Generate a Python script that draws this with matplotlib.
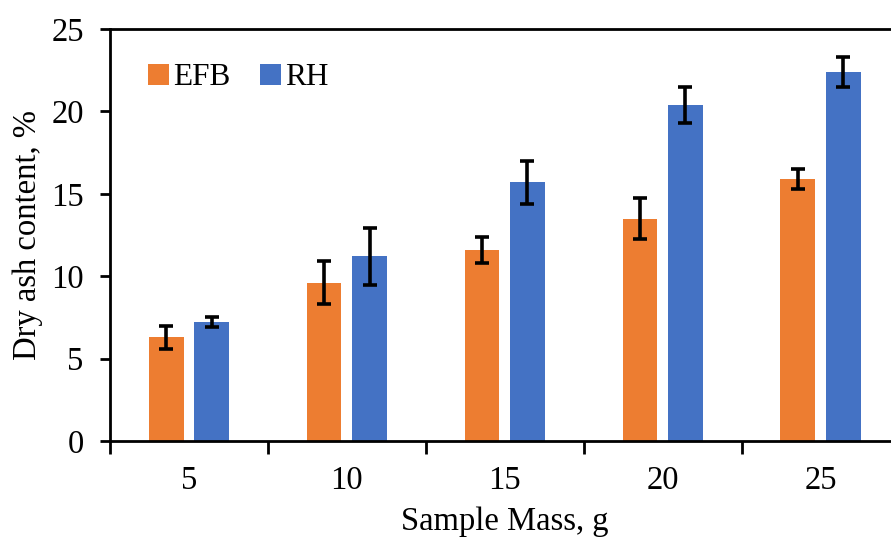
import numpy as np
import matplotlib.pyplot as plt

# data
masses = ['5', '10', '15', '20', '25']
efb = [6.3, 9.6, 11.6, 13.5, 15.9]
efb_err = [0.7, 1.3, 0.8, 1.25, 0.6]
rh = [7.2, 11.2, 15.7, 20.4, 22.4]
rh_err = [0.3, 1.75, 1.3, 1.1, 0.9]

plt.rcParams['font.family'] = ['Liberation Serif', 'DejaVu Serif']

fig = plt.figure(figsize=(8.91, 5.37), dpi=100)
ax = fig.add_axes([0.1235, 0.1788, 0.886, 0.7672])

x = np.arange(len(masses))
w = 0.22
off = 0.144
err_kw = dict(ecolor='black', elinewidth=2.6, capsize=5, capthick=2.6)
ax.bar(x - off, efb, w, yerr=efb_err, color='#ED7D31', label='EFB', error_kw=err_kw)
ax.bar(x + off, rh, w, yerr=rh_err, color='#4472C4', label='RH', error_kw=err_kw)

ax.set_xlim(-0.5, 4.5)
ax.set_ylim(0, 25)
ax.set_yticks([0, 5, 10, 15, 20, 25])

# boundary ticks and centred category labels
ax.set_xticks(np.arange(-0.5, 5, 1))
ax.set_xticklabels([])
ax.set_xticks(x, minor=True)
ax.set_xticklabels(masses, minor=True)
ax.tick_params(axis='x', which='major', direction='out', length=9, width=2)
ax.tick_params(axis='x', which='minor', length=0, pad=18, labelsize=23.5)
ax.tick_params(axis='y', direction='out', length=7, width=2, pad=12, labelsize=23.5)

for s in ['left', 'bottom', 'top']:
    ax.spines[s].set_linewidth(2)
ax.spines['right'].set_visible(False)

ax.set_xlabel('Sample Mass, g', fontsize=23.5, labelpad=7)
ax.set_ylabel('Dry ash content, %', fontsize=23.5, labelpad=6)

ax.legend(loc='upper left', bbox_to_anchor=(0.013, 0.985), ncol=2, frameon=False,
          fontsize=22.5, handlelength=0.65, handleheight=0.65, handletextpad=0.15,
          columnspacing=0.95)

fig.savefig('out.png', dpi=100)
